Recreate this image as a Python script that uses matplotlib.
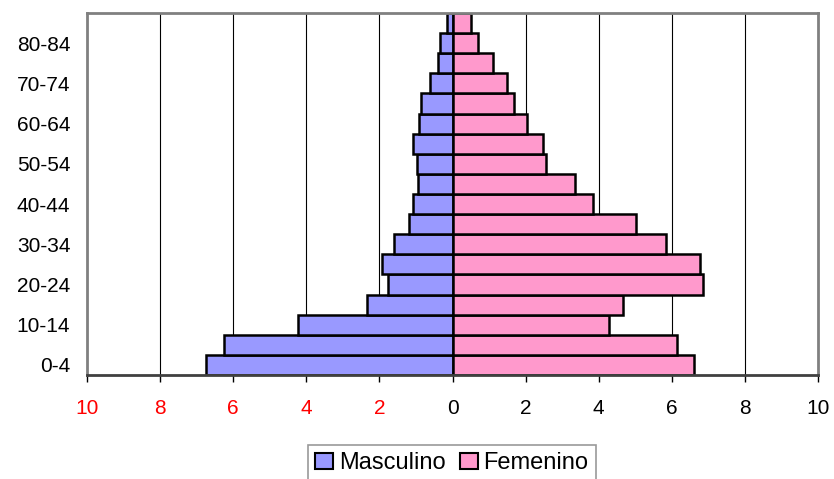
import matplotlib
matplotlib.use("Agg")
import matplotlib.pyplot as plt
from matplotlib.patches import Patch
import numpy as np

plt.rcParams['font.family'] = ['Liberation Sans', 'DejaVu Sans']

age_groups = ["0-4", "5-9", "10-14", "15-19", "20-24", "25-29", "30-34", "35-39",
              "40-44", "45-49", "50-54", "55-59", "60-64", "65-69", "70-74",
              "75-79", "80-84", "85+"]
masculino = [6.74, 6.26, 4.24, 2.33, 1.77, 1.94, 1.59, 1.19, 1.08, 0.95, 0.96,
             1.07, 0.91, 0.86, 0.62, 0.41, 0.34, 0.14]
femenino = [6.61, 6.13, 4.27, 4.67, 6.86, 6.77, 5.84, 5.01, 3.84, 3.34, 2.57,
            2.47, 2.05, 1.67, 1.48, 1.11, 0.70, 0.51]
x_ticks = [-10, -8, -6, -4, -2, 0, 2, 4, 6, 8, 10]
x_tick_labels = ["10", "8", "6", "4", "2", "0", "2", "4", "6", "8", "10"]

col_m = "#9999FF"
col_f = "#FF99CC"

fig = plt.figure(figsize=(8.34, 4.79), dpi=100)
ax = fig.add_axes([87/834, 1-375/479, (818-87)/834, (375-13)/479])

y = np.arange(len(age_groups))
for xv in [-8, -6, -4, -2, 2, 4, 6, 8]:
    ax.axvline(xv, color="black", lw=0.8, zorder=0)

ax.barh(y, [-v for v in masculino], height=1.0, color=col_m, edgecolor="black",
        linewidth=1.8, zorder=2)
ax.barh(y, femenino, height=1.0, color=col_f, edgecolor="black",
        linewidth=1.8, zorder=2)

ax.set_xlim(-10, 10)
ax.set_ylim(-0.5, len(age_groups) - 0.5)
ax.set_xticks(x_ticks)
ax.set_xticklabels(x_tick_labels, fontsize=15)
for lbl, v in zip(ax.get_xticklabels(), x_ticks):
    lbl.set_color("red" if v < 0 else "black")
ax.tick_params(axis="x", length=5, width=1, color="black", pad=12, direction="out")

ax.set_yticks(y[::2])
ax.set_yticklabels(age_groups[::2], fontsize=15)
ax.tick_params(axis="y", length=0, pad=12)

for s in ["left", "top", "right"]:
    ax.spines[s].set_color("#808080")
    ax.spines[s].set_linewidth(2)
ax.spines["bottom"].set_color("#404040")
ax.spines["bottom"].set_linewidth(2)
ax.set_facecolor("white")

handles = [Patch(facecolor=col_m, edgecolor="black", linewidth=1.5, label="Masculino"),
           Patch(facecolor=col_f, edgecolor="black", linewidth=1.5, label="Femenino")]
leg = fig.legend(handles=handles, loc="upper center", bbox_to_anchor=(452/834, 1-445/479),
                 ncol=2, fontsize=17, frameon=True, fancybox=False, shadow=False,
                 handlelength=0.75, handleheight=0.65, handletextpad=0.25,
                 columnspacing=0.6, borderpad=0.3, borderaxespad=0)
leg.get_frame().set_edgecolor("#808080")
leg.get_frame().set_linewidth(1.2)

fig.savefig("out.png", dpi=100)
